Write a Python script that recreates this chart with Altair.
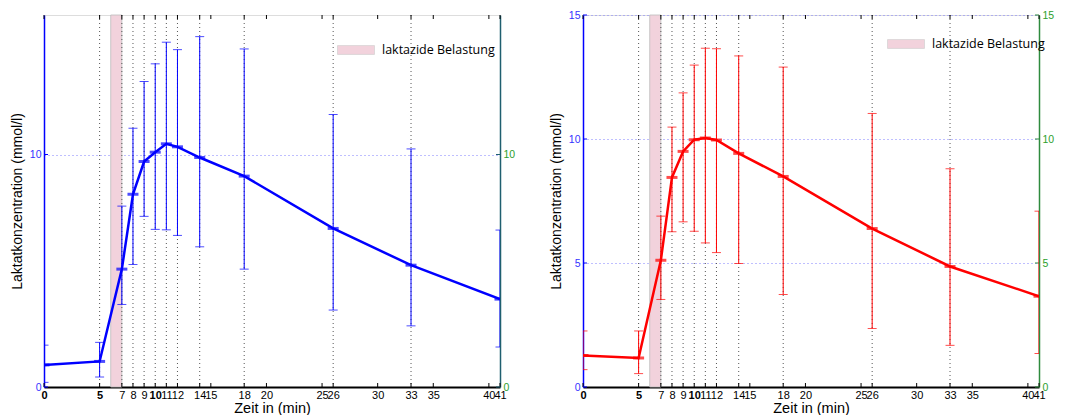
import altair as alt
import pandas as pd

# ---- data ----
times = [0, 5, 7, 8, 9, 10, 11, 12, 14, 18, 26, 33, 41]
x_ticks = [0, 5, 7, 8, 9, 10, 11, 12, 14, 15, 18, 20, 25, 26, 30, 33, 35, 40, 41]

left_mean = [0.95, 1.10, 5.07, 8.29, 9.70, 10.10, 10.46, 10.33, 9.87, 9.07, 6.82, 5.24, 3.78]
left_hi = [1.80, 1.92, 7.78, 11.13, 13.14, 13.90, 14.83, 14.51, 15.07, 14.54, 11.72, 10.24, 6.75]
left_lo = [0.20, 0.43, 3.55, 5.27, 7.34, 6.78, 6.76, 6.52, 6.03, 5.07, 3.31, 2.63, 1.72]

right_mean = [1.27, 1.17, 5.11, 8.45, 9.50, 9.97, 10.04, 9.96, 9.42, 8.49, 6.39, 4.86, 3.66]
right_hi = [2.26, 2.26, 6.89, 10.48, 11.86, 12.98, 13.66, 13.64, 13.35, 12.90, 11.03, 8.80, 7.09]
right_lo = [0.70, 0.54, 3.53, 6.26, 6.66, 6.28, 5.81, 5.42, 4.98, 3.73, 2.36, 1.68, 1.35]

band_start = [6]
band_end = [7]
band_label = ["laktazide Belastung"]

W, H = 456, 372
FONT = "Liberation Sans"


def panel(mean, lo, hi, color, ymax, yticks, right_dom_color, leg_x, leg_y):
    df = pd.DataFrame({"t": times, "m": mean, "lo": lo, "hi": hi})
    grid_df = pd.DataFrame({"t": times[1:-1]})
    xt_df = pd.DataFrame({"t": x_ticks})
    yt_df = pd.DataFrame({"v": yticks})
    band_df = pd.DataFrame({"s": band_start, "e": band_end, "label": band_label})

    xs = alt.Scale(domain=[0, 41], nice=False, zero=False)
    ys = alt.Scale(domain=[0, ymax], nice=False, zero=False)

    x_axis = alt.Axis(
        values=x_ticks, title="Zeit in (min)", labelOverlap=False, labelFlush=False,
        labelBound=False, ticks=False, grid=False, domainColor="black", domainWidth=2,
        labelFont=FONT, labelFontSize=11, labelColor="black", labelPadding=2,
        labelFontWeight={"condition": {"test": "datum.value == 0 || datum.value == 5 || datum.value == 10",
                                       "value": "bold"}, "value": "normal"},
        titleFont=FONT, titleFontSize=14.5, titleFontWeight="normal", titlePadding=1,
    )
    X = alt.X("t:Q", scale=xs, axis=x_axis)

    left_axis = alt.Axis(
        orient="left", values=yticks, title="Laktatkonzentration (mmol/l)",
        ticks=False, grid=True, gridColor="#7f7fff", gridDash=[1, 3], gridWidth=1,
        domainColor="#0000ff", domainWidth=1.5, labelColor="#3333ff",
        labelFont=FONT, labelFontSize=10.5, labelPadding=3, labelFlush=False,
        titleFont=FONT, titleFontSize=14, titleFontWeight="normal", titleColor="black",
        titlePadding=5,
    )
    right_axis = alt.Axis(
        orient="right", values=yticks, title=None, ticks=False, grid=False,
        domainColor=right_dom_color, domainWidth=1.5, labelColor="#2ca02c",
        labelFont=FONT, labelFontSize=10.5, labelPadding=3, labelFlush=False,
    )

    band = alt.Chart(band_df).mark_rect(stroke="#bbbbbb", strokeWidth=0.8).encode(
        x=alt.X("s:Q", scale=xs, axis=x_axis),
        x2="e:Q",
        color=alt.Color(
            "label:N",
            scale=alt.Scale(range=["#f2d2dc"]),
            legend=alt.Legend(
                title=None, orient="none", legendX=leg_x, legendY=leg_y,
                symbolType="M-1,-0.24L1,-0.24L1,0.24L-1,0.24Z", symbolSize=1369,
                symbolStrokeColor="#cccccc", symbolStrokeWidth=0.6,
                labelFont="Open Sans", labelFontSize=12.5, labelColor="black",
                labelOffset=7, padding=0,
            ),
        ),
    )

    vgrid = alt.Chart(grid_df).mark_rule(color="#555555", strokeDash=[1, 3], strokeWidth=1).encode(x=X)

    top_ticks = alt.Chart(xt_df).mark_rule(color="black", strokeWidth=1).encode(
        x=X, y=alt.value(0), y2=alt.value(4))
    bot_ticks = alt.Chart(xt_df).mark_rule(color="black", strokeWidth=1).encode(
        x=X, y=alt.value(H), y2=alt.value(H - 4))
    l_ticks = alt.Chart(yt_df).mark_rule(color="#0000ff", strokeWidth=1).encode(
        y=alt.Y("v:Q", scale=ys, axis=None), x=alt.value(0), x2=alt.value(4))
    r_ticks = alt.Chart(yt_df).mark_rule(color=right_dom_color, strokeWidth=1).encode(
        y=alt.Y("v:Q", scale=ys, axis=None), x=alt.value(W), x2=alt.value(W - 4))

    base = alt.Chart(df)
    err = base.mark_rule(color=color, strokeWidth=1, clip=True).encode(
        x=X, y=alt.Y("lo:Q", scale=ys, axis=None), y2="hi:Q")
    cap_lo = base.mark_tick(color=color, orient="horizontal", size=9, thickness=1, clip=True).encode(
        x=X, y=alt.Y("lo:Q", scale=ys, axis=None))
    cap_hi = base.mark_tick(color=color, orient="horizontal", size=9, thickness=1, clip=True).encode(
        x=X, y=alt.Y("hi:Q", scale=ys, axis=None))
    line = base.mark_line(color=color, strokeWidth=2.5, clip=True).encode(
        x=X, y=alt.Y("m:Q", scale=ys, axis=left_axis))
    marks = base.mark_tick(color=color, orient="horizontal", size=11, thickness=3, clip=True).encode(
        x=X, y=alt.Y("m:Q", scale=ys, axis=right_axis))

    return alt.layer(
        band, vgrid, top_ticks, bot_ticks, l_ticks, r_ticks, err, cap_lo, cap_hi, line, marks
    ).resolve_axis(y="independent").properties(width=W, height=H)


left = panel(left_mean, left_lo, left_hi, "#0000ff", 16, [0, 10], "#1f5f6f", 293, 16)
right = panel(right_mean, right_lo, right_hi, "#ff0000", 15, [0, 5, 10, 15], "#2e8b3e", 304, 10)

chart = alt.hconcat(left, right, spacing=32).resolve_scale(color="independent").resolve_legend(
    color="independent"
).properties(
    padding={"left": 1, "top": 1, "right": 0, "bottom": 0}
).configure_view(stroke="black", strokeWidth=1).configure(background="white")

chart.save("out.html", embed_options={"renderer": "svg", "actions": False})
